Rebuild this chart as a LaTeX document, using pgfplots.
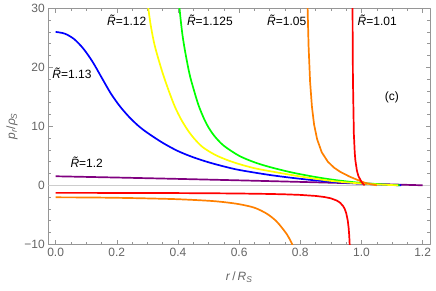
\documentclass[border=0pt]{standalone}
\usepackage{pgfplots}
\pgfplotsset{compat=1.18}
\usepackage{fontspec}
\setmainfont{Liberation Sans}
\definecolor{frameg}{RGB}{150,150,150}
\definecolor{labg}{RGB}{100,100,100}
\definecolor{zerog}{RGB}{205,205,205}
\definecolor{cblue}{RGB}{0,0,255}
\definecolor{cyel}{RGB}{255,255,0}
\definecolor{cgreen}{RGB}{0,255,0}
\definecolor{corange}{RGB}{255,128,0}
\definecolor{cred}{RGB}{255,0,0}
\definecolor{cpurple}{RGB}{128,0,128}
\newcommand{\Rt}{\textit{R̃}}
\begin{document}
\begin{tikzpicture}
\begin{axis}[
  name=ax,
  scale only axis,
  width=381.7bp, height=236bp,
  xmin=-0.024, xmax=1.224, ymin=-10, ymax=30,
  axis line style={frameg, line width=0.6bp},
  tick style={frameg, line width=0.5bp},
  tick align=inside,
  tick pos=both,
  xticklabel pos=bottom, yticklabel pos=left,
  major tick length=4.5bp, minor tick length=2.6bp,
  xtick={0,0.2,0.4,0.6,0.8,1.0,1.2},
  xticklabels={0.0,0.2,0.4,0.6,0.8,1.0,1.2},
  ytick={-10,0,10,20,30},
  yticklabels={−10,0,10,20,30},
  minor x tick num=3, minor y tick num=4,
  ticklabel style={font=\fontsize{12bp}{14bp}\selectfont, text=labg},
  xlabel={\textit{r}\,/\,\textit{R}\textsubscript{\textit{S}}},
  ylabel={\textit{p}\textsubscript{\textit{r}}/\textit{ρ}\textsubscript{\textit{S}}},
  label style={font=\fontsize{12bp}{14bp}\selectfont, text=labg},
  xlabel style={at={(axis description cs:0.5,0)}, anchor=center, yshift=-32.7bp},
  every axis y label/.append style={at={(axis description cs:-0.095,0.5)}, anchor=center},
  line join=round,
]
\addplot[zerog, line width=0.6bp, forget plot] coordinates {(-0.024,0) (1.224,0)};
% R=1.2 purple
\addplot[cpurple, line width=1.7bp, smooth] coordinates {
(0,1.53) (0.2,1.315) (0.4,1.085) (0.6,0.838) (0.8,0.574) (1.0,0.295) (1.1,0.150) (1.2,0)};
% R=1.13 blue
\addplot[cblue, line width=1.7bp, smooth] coordinates {
(0,26.0) (0.03,25.7) (0.06,24.8) (0.09,23.2) (0.12,21.0) (0.15,18.3) (0.18,15.6)
(0.21,13.4) (0.24,11.6) (0.27,10.1) (0.30,8.9) (0.35,7.2) (0.40,5.8) (0.45,4.75)
(0.50,3.9) (0.55,3.2) (0.60,2.6) (0.70,1.75) (0.80,1.1) (0.90,0.6) (1.00,0.27)
(1.08,0.08) (1.13,0)};
% R=1.125 green
\addplot[cgreen, line width=1.7bp, smooth] coordinates {
(0.403,31) (0.41,27.5) (0.416,25) (0.425,22.2) (0.438,18.8) (0.45,16.5)
(0.467,13.6) (0.485,11.3) (0.50,9.8) (0.52,8.3) (0.55,6.7) (0.60,5.0) (0.65,3.9)
(0.70,3.1) (0.77,2.2) (0.85,1.4) (0.92,0.85) (1.0,0.4) (1.08,0.12) (1.125,0)};
% R=1.12 yellow
\addplot[cyel, line width=1.7bp, smooth] coordinates {
(0.298,32) (0.303,30) (0.31,27.4) (0.32,24.6) (0.33,22.5) (0.35,19.0) (0.37,16.0)
(0.39,13.3) (0.41,11.2) (0.43,9.5) (0.45,8.1) (0.48,6.5) (0.52,5.2) (0.56,4.3)
(0.60,3.6) (0.65,2.9) (0.70,2.4) (0.80,1.5) (0.90,0.75) (1.0,0.3) (1.08,0.08) (1.12,0)};
% R=1.05 orange
\addplot[corange, line width=1.7bp] coordinates {
(0.822,36) (0.824,29.6) (0.827,23.6) (0.832,17.5) (0.838,13.3) (0.845,10.3) (0.855,7.8)
(0.87,5.6) (0.89,4.0) (0.91,3.0) (0.93,2.3) (0.96,1.5) (0.985,0.95) (1.01,0.45)
(1.03,0.18) (1.05,0)};
\addplot[corange, line width=1.7bp, smooth] coordinates {
(0,-2.04) (0.1,-2.06) (0.2,-2.12) (0.3,-2.22) (0.4,-2.36) (0.5,-2.62) (0.55,-2.85)
(0.6,-3.2) (0.65,-3.8) (0.69,-4.8) (0.72,-6.0) (0.74,-7.2) (0.756,-8.3) (0.768,-9.4)
(0.775,-10.2) (0.778,-11)};
% R=1.01 red
\addplot[cred, line width=1.7bp] coordinates {
(0.9700,49.5) (0.9705,34.9) (0.971,26.8) (0.972,18.1) (0.975,8.74) (0.978,5.45)
(0.98,4.23) (0.985,2.49) (0.99,1.56) (1.0,0.567) (1.005,0.258) (1.01,0)};
\addplot[cred, line width=1.7bp] coordinates {
(0,-1.284) (0.1,-1.286) (0.2,-1.292) (0.3,-1.303) (0.4,-1.321) (0.5,-1.348) (0.6,-1.392)
(0.7,-1.468) (0.75,-1.530) (0.8,-1.628) (0.85,-1.802) (0.88,-1.996) (0.9,-2.21)
(0.92,-2.605) (0.93,-2.948) (0.94,-3.525) (0.945,-3.992) (0.95,-4.71) (0.955,-5.94)
(0.958,-7.22) (0.96,-8.57) (0.962,-10.7) (0.963,-12.33)};
\begin{scope}[every node/.style={font=\fontsize{12bp}{14bp}\selectfont, inner sep=0pt}]
\node[anchor=base west] at (axis cs:-0.011,18.08) {\Rt=1.13};
\node[anchor=base west] at (axis cs:0.168,27.1) {\Rt=1.12};
\node[anchor=base west] at (axis cs:0.429,27.1) {\Rt=1.125};
\node[anchor=base west] at (axis cs:0.691,27.1) {\Rt=1.05};
\node[anchor=base west] at (axis cs:0.987,27.1) {\Rt=1.01};
\node[anchor=base west] at (axis cs:0.048,3.1) {\Rt=1.2};
\node[anchor=center] at (axis cs:1.099,14.86) {(c)};
\end{scope}
\end{axis}
\pgfresetboundingbox
\path ([xshift=-48.3bp,yshift=-46.7bp]ax.south west) rectangle ([xshift=6bp,yshift=8.3bp]ax.north east);
\end{tikzpicture}
\end{document}
